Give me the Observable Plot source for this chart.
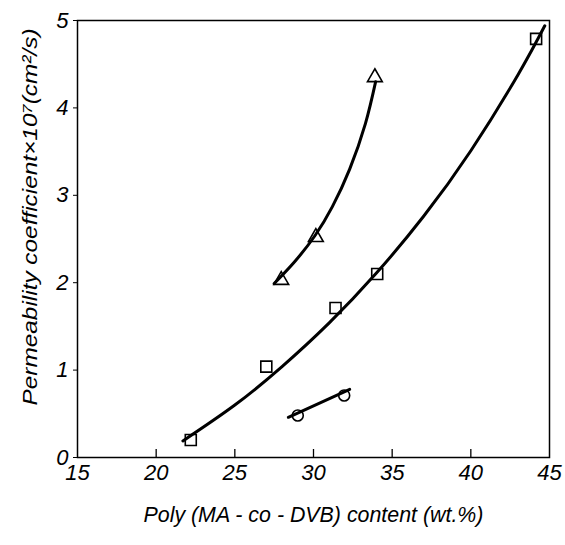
<!DOCTYPE html>
<html><head><meta charset="utf-8">
<script src="https://cdn.jsdelivr.net/npm/d3@7"></script>
<script src="https://cdn.jsdelivr.net/npm/@observablehq/plot@0.6"></script>
<style>body{margin:0;background:#fff}svg{display:block}</style>
</head><body><div id="chart"></div>
<script>
const xTicks = [15, 20, 25, 30, 35, 40, 45];
const yTicks = [0, 1, 2, 3, 4, 5];
const xLabel = "Poly (MA - co - DVB) content (wt.%)";
const yLabel = "Permeability coefficient×10⁷(cm²/s)";

// markers
const squareX = [22.2, 27.0, 31.4, 34.05, 44.15];
const squareY = [0.2, 1.04, 1.71, 2.1, 4.79];
const triX = [27.95, 30.15, 33.9];
const triY = [2.03, 2.52, 4.35];
const circX = [29.0, 31.95];
const circY = [0.48, 0.71];

// hand-drawn curves
const sqCurveX = [21.7, 25, 28, 31, 34, 37, 40, 43, 44.7];
const sqCurveY = [0.19, 0.60, 1.04, 1.54, 2.11, 2.76, 3.51, 4.38, 4.94];
const triCurveX = [27.5, 28.8, 30.1, 31.2, 32.3, 33.3, 33.95];
const triCurveY = [1.99, 2.24, 2.54, 2.87, 3.3, 3.82, 4.3];
const circCurveX = [28.4, 32.3];
const circCurveY = [0.46, 0.78];

const zip = (xs, ys) => xs.map((x, i) => ({x, y: ys[i]}));
const font = "'Liberation Sans', sans-serif";

const chart = Plot.plot({
  width: 565, height: 545,
  marginLeft: 77, marginRight: 16, marginTop: 20, marginBottom: 88,
  style: {fontFamily: font, fontStyle: "italic", fontSize: "22px", color: "#000", background: "#fff"},
  x: {domain: [15, 45], label: null},
  y: {domain: [0, 5], label: null},
  marks: [
    Plot.frame({stroke: "#000", strokeWidth: 1.5}),
    Plot.axisX({ticks: xTicks, tickSize: 0, tickPadding: 7, fontSize: 22, tickFormat: d => String(d)}),
    Plot.ruleX(xTicks.slice(1, -1), {x: d => d, insetTop: 429, stroke: "#000", strokeWidth: 1.3}),
    Plot.axisY({ticks: yTicks, tickSize: 4, tickPadding: 5, fontSize: 22, tickFormat: d => String(d)}),
    Plot.line(zip(sqCurveX, sqCurveY), {x: "x", y: "y", curve: "natural", strokeWidth: 3, stroke: "#000"}),
    Plot.line(zip(triCurveX, triCurveY), {x: "x", y: "y", curve: "natural", strokeWidth: 3, stroke: "#000"}),
    Plot.line(zip(circCurveX, circCurveY), {x: "x", y: "y", strokeWidth: 3, stroke: "#000"}),
    Plot.dot(zip(squareX, squareY), {x: "x", y: "y", symbol: "square", r: 6.2, stroke: "#000", fill: "none", strokeWidth: 1.6}),
    Plot.dot(zip(triX, triY), {x: "x", y: "y", symbol: "triangle", r: 5.5, stroke: "#000", fill: "none", strokeWidth: 1.6}),
    Plot.dot(zip(circX, circY), {x: "x", y: "y", symbol: "circle", r: 5.5, stroke: "#000", fill: "none", strokeWidth: 1.6}),
    Plot.text([xLabel], {className: "xlab", frameAnchor: "bottom", textAnchor: "middle", dy: 64, text: d => d, fontSize: 22, fill: "#000"}),
    Plot.text([yLabel], {className: "ylab", frameAnchor: "left", textAnchor: "middle", dx: -47, dy: -22, rotate: -90, text: d => d, fontSize: 21, fill: "#000"})
  ]
});
d3.select(chart).select(".ylab text").attr("textLength", 377).attr("lengthAdjust", "spacingAndGlyphs");
d3.select(chart).select(".xlab text").attr("textLength", 340).attr("lengthAdjust", "spacingAndGlyphs");
document.getElementById("chart").appendChild(chart);
</script>
</body></html>
